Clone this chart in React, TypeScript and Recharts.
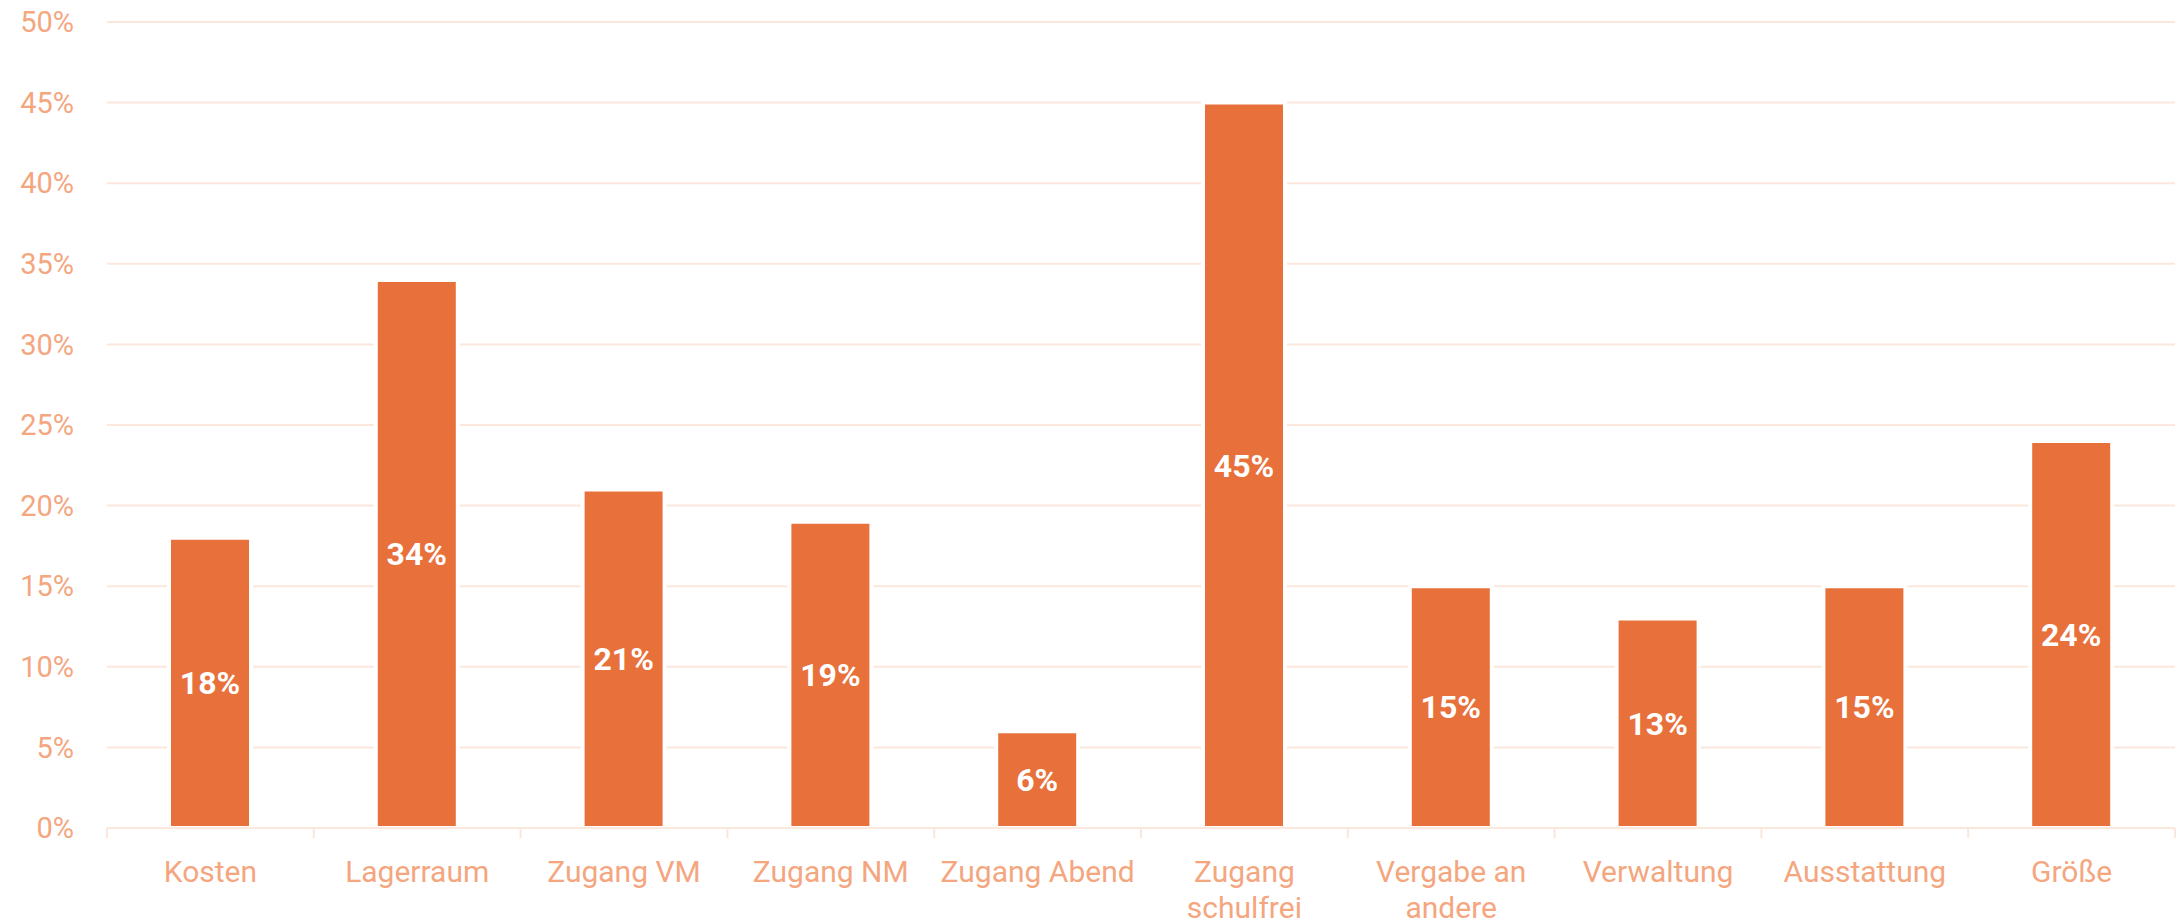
import { Bar, BarChart, CartesianGrid, LabelList, XAxis, YAxis } from 'recharts'

const categories = [
  'Kosten',
  'Lagerraum',
  'Zugang VM',
  'Zugang NM',
  'Zugang Abend',
  'Zugang schulfrei',
  'Vergabe an andere',
  'Verwaltung',
  'Ausstattung',
  'Größe',
]
const shares = [18, 34, 21, 19, 6, 45, 15, 13, 15, 24]
const yTicks = [0, 5, 10, 15, 20, 25, 30, 35, 40, 45, 50]

const WIDTH = 2178
const HEIGHT = 924
const MARGIN = { top: 22, right: 3, left: 0, bottom: 0 }
const Y_AXIS_W = 107
const BAND = (WIDTH - MARGIN.left - MARGIN.right - Y_AXIS_W) / categories.length

const ORANGE = '#E8703A'
const PEACH = '#F4A67F'
const GRID = '#FCE7DD'
const FONT = 'Roboto, "Noto Sans", sans-serif'
const TICK_SIZE = 30

const data = categories.map((name, i) => ({ name, value: shares[i] }))

let ctx: CanvasRenderingContext2D | null = null
function measure(s: string) {
  if (!ctx) ctx = document.createElement('canvas').getContext('2d')
  if (!ctx) return s.length * TICK_SIZE * 0.5
  ctx.font = `${TICK_SIZE}px Roboto`
  return ctx.measureText(s).width
}

// greedy word wrap to fit the category band
function wrap(label: string, maxW: number) {
  const words = label.split(' ')
  const lines: string[] = []
  let cur = ''
  for (const w of words) {
    const next = cur ? `${cur} ${w}` : w
    if (cur && measure(next) > maxW) {
      lines.push(cur)
      cur = w
    } else {
      cur = next
    }
  }
  if (cur) lines.push(cur)
  return lines
}

interface TickProps {
  x?: number
  y?: number
  index?: number
  payload?: { value: string }
}

function CategoryTick({ x = 0, y = 0, index = 0, payload }: TickProps) {
  const left = x - BAND / 2
  const isLast = index === categories.length - 1
  const lines = wrap(payload?.value ?? '', BAND - 12)
  return (
    <g>
      <line x1={left} y1={y} x2={left} y2={y + 10} stroke={GRID} strokeWidth={2} />
      {isLast && (
        <line x1={left + BAND} y1={y} x2={left + BAND} y2={y + 10} stroke={GRID} strokeWidth={2} />
      )}
      <text x={x} y={y + 54} textAnchor="middle" fill={PEACH} fontSize={TICK_SIZE} fontFamily={FONT}>
        {lines.map((l, i) => (
          <tspan key={i} x={x} dy={i === 0 ? 0 : 36}>
            {l}
          </tspan>
        ))}
      </text>
    </g>
  )
}

export default function App() {
  return (
    <div style={{ position: 'absolute', left: 0, top: 0, width: WIDTH, height: HEIGHT, background: '#fff' }}>
      <BarChart width={WIDTH} height={HEIGHT} data={data} margin={MARGIN} barSize={82}>
        <CartesianGrid vertical={false} stroke={GRID} strokeWidth={2} />
        <XAxis
          dataKey="name"
          interval={0}
          height={HEIGHT - 828 - MARGIN.bottom}
          tickLine={false}
          tickSize={0}
          tickMargin={0}
          axisLine={{ stroke: GRID, strokeWidth: 2 }}
          tick={<CategoryTick />}
        />
        <YAxis
          width={Y_AXIS_W}
          domain={[0, 50]}
          ticks={yTicks}
          interval={0}
          axisLine={false}
          tickLine={false}
          tickSize={0}
          tickMargin={33}
          tickFormatter={(v: number) => `${v}%`}
          tick={{ fill: PEACH, fontSize: 29, fontFamily: FONT }}
        />
        <Bar dataKey="value" fill={ORANGE} stroke="#fff" strokeWidth={4} isAnimationActive={false}>
          <LabelList
            dataKey="value"
            position="center"
            formatter={(v: number) => `${v}%`}
            fill="#fff"
            fontSize={32}
            fontWeight={700}
            fontFamily={FONT}
          />
        </Bar>
      </BarChart>
    </div>
  )
}
